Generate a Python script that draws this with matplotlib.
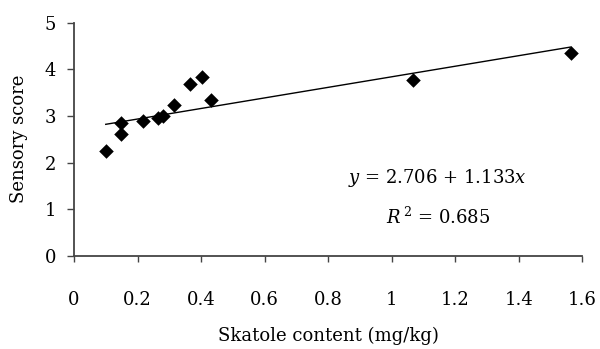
import matplotlib
matplotlib.use("Agg")
import matplotlib.pyplot as plt
import numpy as np

skatole = [0.10, 0.148, 0.148, 0.216, 0.263, 0.281, 0.315, 0.365, 0.402, 0.431, 1.066, 1.564]
score = [2.24, 2.62, 2.85, 2.88, 2.95, 3.00, 3.24, 3.69, 3.83, 3.35, 3.78, 4.35]
intercept, slope = 2.706, 1.133
xticks = [0, 0.2, 0.4, 0.6, 0.8, 1.0, 1.2, 1.4, 1.6]
xticklabels = ["0", "0.2", "0.4", "0.6", "0.8", "1", "1.2", "1.4", "1.6"]
yticks = [0, 1, 2, 3, 4, 5]

plt.rcParams['font.family'] = ['DejaVu Serif']
plt.rcParams['mathtext.fontset'] = 'dejavuserif'

fs = 13
fig = plt.figure(figsize=(6.0, 3.49), dpi=100)
ax = fig.add_axes([0.1233, 0.2673, 0.9705 - 0.1233, 0.935 - 0.2673])

ax.scatter(skatole, score, marker='D', s=55, color='black', zorder=3, clip_on=False, linewidths=0)
xs = np.array([min(skatole), max(skatole)])
ax.plot(xs, intercept + slope * xs, color='black', lw=1.0)

ax.set_xlim(0, 1.6)
ax.set_ylim(0, 5)
ax.set_xticks(xticks)
ax.set_xticklabels(xticklabels)
ax.set_yticks(yticks)
for s in ['top', 'right']:
    ax.spines[s].set_visible(False)
for s in ['left', 'bottom']:
    ax.spines[s].set_color('#444444')
    ax.spines[s].set_linewidth(1.3)
ax.tick_params(axis='x', direction='out', length=4.5, width=1.0, color='#444444', pad=21, labelsize=fs)
ax.tick_params(axis='y', direction='out', length=5, width=1.0, color='#444444', pad=8, labelsize=fs)
ax.set_xlabel('Skatole content (mg/kg)', fontsize=fs, labelpad=13)
ax.set_ylabel('Sensory score', fontsize=fs, labelpad=12)

ax.text(1.143, 1.67, r'$y$ = 2.706 + 1.133$x$', ha='center', va='center', fontsize=fs)
ax.text(1.146, 0.83, r'$R^{\,2}$ = 0.685', ha='center', va='center', fontsize=fs)

fig.savefig('out.png', dpi=100)
